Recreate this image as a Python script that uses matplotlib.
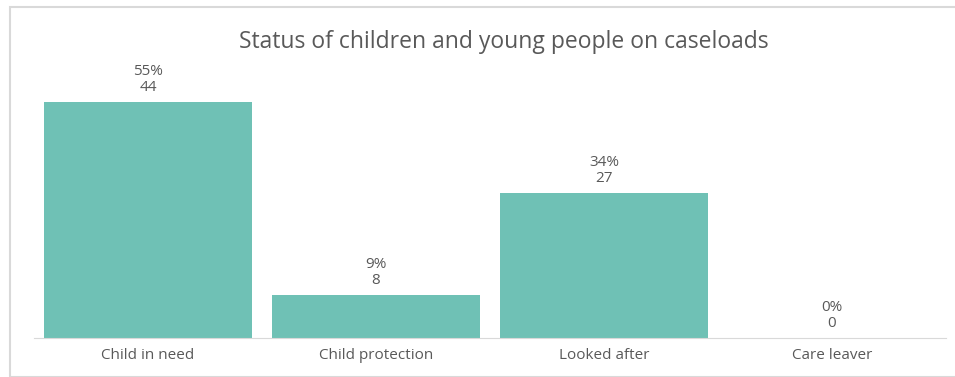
import matplotlib.pyplot as plt
from matplotlib.patches import Rectangle

categories = ["Child in need", "Child protection", "Looked after", "Care leaver"]
counts = [44, 8, 27, 0]
percents = [55, 9, 34, 0]

W, H = 955, 377
fig = plt.figure(figsize=(W / 100, H / 100), dpi=100)
plt.rcParams['font.family'] = ['Open Sans', 'DejaVu Sans']

# chart frame
fig.patches.append(Rectangle((10 / W, 0.5 / H), (W + 10) / W, (H - 7.5) / H,
                             transform=fig.transFigure, fill=False,
                             edgecolor='#d9d9d9', linewidth=1.5))

ax = fig.add_axes([34 / W, (H - 338) / H, (946 - 34) / W, (338 - 70) / H])
x = range(len(categories))
ax.bar(x, counts, width=0.91, color='#6fc1b5')
for i, (c, p) in enumerate(zip(counts, percents)):
    ax.annotate(f"{p}%\n{c}", (i, c), xytext=(0, 5), textcoords='offset points',
                ha='center', va='bottom', fontsize=11, color='#595959',
                linespacing=1.1)

ax.set_xlim(-0.5, len(categories) - 0.5)
ax.set_ylim(0, 50)
ax.set_xticks(list(x))
ax.set_xticklabels(categories, fontsize=11, color='#595959')
ax.tick_params(axis='x', length=0, pad=7)
ax.set_yticks([])
for s in ['top', 'right', 'left']:
    ax.spines[s].set_visible(False)
ax.spines['bottom'].set_color('#d9d9d9')

fig.text(504 / W, 1 - 42 / H, "Status of children and young people on caseloads",
         ha='center', va='center', fontsize=16.5, color='#595959')

plt.savefig("out.png", dpi=100)
